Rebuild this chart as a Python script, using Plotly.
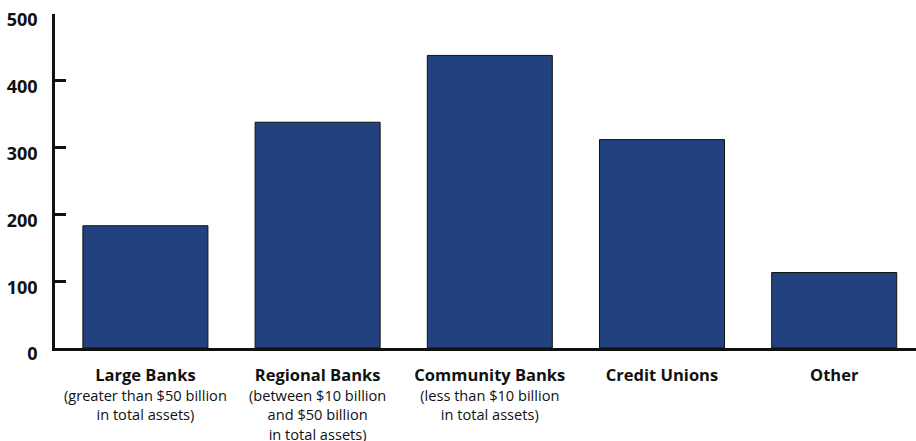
import plotly.graph_objects as go

# Institution groups and their counts
categories = ["Large Banks", "Regional Banks", "Community Banks", "Credit Unions", "Other"]
subtitles = [
    ["(greater than $50 billion", "in total assets)"],
    ["(between $10 billion", "and $50 billion", "in total assets)"],
    ["(less than $10 billion", "in total assets)"],
    [],
    [],
]
values = [183, 338, 438, 312, 113]
y_ticks = [0, 100, 200, 300, 400, 500]

tick_text = []
for name, subs in zip(categories, subtitles):
    parts = [f"<span style='font-size:16.5px'><b>{name}</b></span>"]
    parts += [f"<span style='font-size:14.6px'>{s}</span>" for s in subs]
    tick_text.append("<br>".join(parts))

fig = go.Figure(
    go.Bar(
        x=list(range(len(categories))),
        y=values,
        width=0.726,
        marker=dict(color="#21427f", line=dict(color="#111111", width=1)),
        hoverinfo="skip",
    )
)

fig.update_layout(
    width=916,
    height=441,
    margin=dict(l=55, r=0, t=14, b=93),
    paper_bgcolor="white",
    plot_bgcolor="white",
    showlegend=False,
    font=dict(family="Open Sans", color="#111111"),
)

fig.update_xaxes(
    range=[-0.525, 4.475],
    tickvals=list(range(len(categories))),
    ticktext=tick_text,
    tickfont=dict(size=15, family="Open Sans", color="#111111"),
    showline=True,
    linecolor="#111111",
    linewidth=3,
    ticks="",
    ticklabelstandoff=12,
    showgrid=False,
    zeroline=False,
    tickangle=0,
    automargin=False,
)

fig.update_yaxes(
    range=[0, 500],
    tickvals=y_ticks,
    ticktext=[str(v) for v in y_ticks],
    tickfont=dict(size=18, family="Open Sans", color="#111111", weight="bold"),
    showline=True,
    linecolor="#111111",
    linewidth=2.5,
    ticks="inside",
    ticklen=11,
    tickwidth=2.5,
    tickcolor="#111111",
    ticklabelstandoff=11,
    ticklabelshift=6,
    showgrid=False,
    zeroline=False,
    automargin=False,
)

fig.write_html("out.html")
